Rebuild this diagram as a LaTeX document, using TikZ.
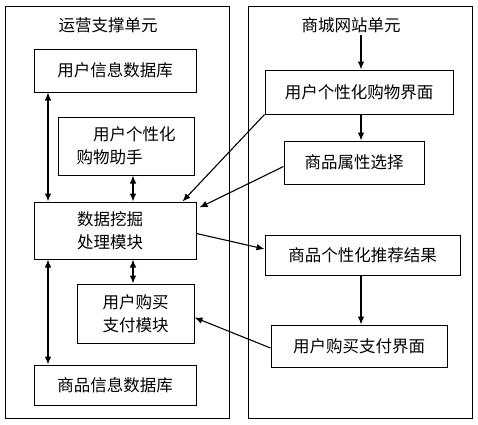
\documentclass[tikz,border=0pt]{standalone}
\usepackage{fontspec}
\newfontfamily\cjk{Noto Sans CJK SC}
\usetikzlibrary{arrows.meta,calc}
\begin{document}
\begin{tikzpicture}[x=1pt,y=-1pt,
  every node/.style={font=\cjk\fontsize{16.5}{23}\selectfont},
  frame/.style={draw,line width=0.9pt},
  box/.style={draw,line width=1pt,inner sep=0pt,align=center},
  arr/.style={line width=1.1pt,-{Latex[length=8pt,width=6.5pt]}},
  darr/.style={line width=1.1pt,{Latex[length=8pt,width=6.5pt]}-{Latex[length=8pt,width=6.5pt]}}]
\useasboundingbox (0,0) rectangle (478,424);
% outer frames
\draw[frame] (5,6) rectangle (229,418);
\draw[frame] (248,6) rectangle (472,418);
% titles
\node (tl) at (108,25) {运营支撑单元};
\node[inner sep=2pt] (tr) at (351,25) {商城网站单元};
% left boxes
\node[box,minimum width=162pt,minimum height=43pt] (ui) at (115,70.5) {用户信息数据库};
\node[box,minimum width=136pt,minimum height=58pt,align=left] (as) at (126,146) {\hspace{1em}用户个性化\\购物助手};
\node[box,minimum width=162pt,minimum height=57pt] (dm) at (115,230.5) {\hspace{-10pt}数据挖掘\\\hspace{-10pt}处理模块};
\node[box,minimum width=117pt,minimum height=59pt] (pay) at (135.5,313.5) {用户购买\\支付模块};
\node[box,minimum width=162pt,minimum height=40pt] (gi) at (115,385) {商品信息数据库};
% right boxes
\node[box,minimum width=188pt,minimum height=44pt] (r1) at (359,92) {用户个性化购物界面};
\node[box,minimum width=140pt,minimum height=43pt] (r2) at (354,162.5) {商品属性选择};
\node[box,minimum width=195pt,minimum height=40pt] (r3) at (362.5,255) {商品个性化推荐结果};
\node[box,minimum width=176pt,minimum height=42pt] (r4) at (359,346) {用户购买支付界面};
% column coordinates
\coordinate (cx) at (361,0);
\coordinate (cl) at (48,0);
\coordinate (cm) at (133,0);
% right column arrows
\draw[arr] (tr.south -| cx) -- (r1.north -| cx);
\draw[arr] (r1.south -| cx) -- (r2.north -| cx);
\draw[arr] (r3.south -| cx) -- (r4.north -| cx);
% left double arrows
\draw[darr] (ui.south -| cl) -- (dm.north -| cl);
\draw[darr] (as.south -| cm) -- (dm.north -| cm);
\draw[darr] (dm.south -| cl) -- (gi.north -| cl);
\draw[darr] (dm.south -| cm) -- (pay.north -| cm);
% diagonal arrows
\draw[arr] (r1.south west) -- ([xshift=-14pt]dm.north east);
\draw[arr] ([yshift=-4pt]r2.west) -- ([xshift=3pt,yshift=-6pt]dm.north east);
\draw[arr] ([yshift=-3pt]dm.east) -- ([yshift=6pt]r3.west);
\draw[arr] ([yshift=-2pt]r4.west) -- ([yshift=-4pt]pay.east);
\end{tikzpicture}
\end{document}
